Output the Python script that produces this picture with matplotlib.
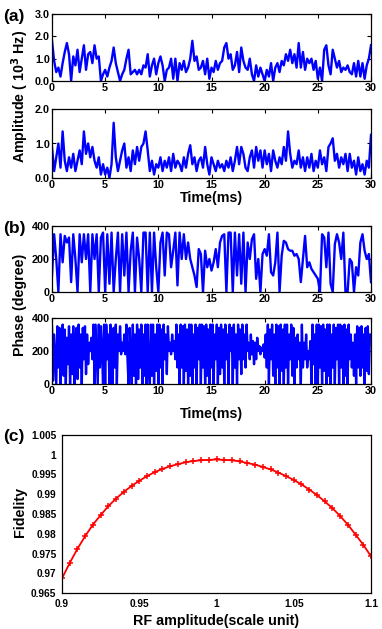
import numpy as np
import matplotlib
matplotlib.use("Agg")
import matplotlib.pyplot as plt
from matplotlib.ticker import FuncFormatter

plt.rcParams['font.family'] = ['Liberation Sans', 'DejaVu Sans']

# (a) amplitude traces, sampled every 0.2 ms (units of 10^3 Hz)
amp_top = [1.8, 0.9, 0.4, 0.6, 0.2, 0.8, 1.3, 1.7, 1.2, 0.0,
           1.1, 0.7, 1.4, 0.4, 1.0, 1.6, 0.5, 1.2, 1.3, 0.8,
           1.6, 1.0, 1.1, 0.0, 0.3, 0.5, 0.2, 0.6, 0.9, 1.5,
           0.8, 0.4, 0.0, 0.3, 0.5, 1.0, 1.4, 0.3, 0.4, 0.5,
           0.3, 0.5, 0.3, 0.7, 0.6, 1.2, 0.2, 0.7, 1.0, 0.3,
           0.8, 1.1, 0.7, 0.0, 0.5, 0.6, 1.0, 0.1, 1.0, 0.0,
           0.8, 0.5, 0.9, 0.4, 0.6, 1.0, 1.8, 0.9, 1.1, 0.5,
           0.6, 0.9, 0.3, 1.0, 0.1, 0.6, 0.4, 0.9, 0.5, 0.8,
           0.9, 1.5, 1.7, 1.0, 1.2, 0.5, 0.7, 1.3, 0.4, 1.5,
           0.9, 0.6, 0.5, 1.0, 0.3, 0.0, 0.7, 0.2, 0.6, 0.3,
           0.0, 0.5, 0.2, 0.8, 0.0, 0.6, 0.8, 0.4, 0.9, 0.7,
           1.2, 0.9, 1.4, 0.8, 1.2, 0.6, 1.7, 0.6, 1.3, 0.5,
           1.0, 0.8, 1.0, 0.5, 0.9, 0.1, 0.6, 0.0, 1.4, 1.6,
           0.7, 0.3, 1.4, 1.0, 0.6, 0.9, 0.4, 0.6, 0.5, 0.7,
           0.4, 0.3, 0.8, 0.2, 0.9, 0.2, 0.8, 0.1, 0.7, 1.0,
           1.6]
amp_bot = [0.9, 0.2, 0.6, 1.0, 0.3, 1.35, 0.5, 0.2, 0.6, 0.3,
           0.7, 0.2, 0.5, 0.8, 0.4, 1.35, 0.7, 1.0, 0.6, 0.9,
           0.5, 0.3, 0.6, 0.1, 0.4, 0.1, 0.3, 0.0, 0.4, 1.6,
           0.6, 0.2, 0.5, 0.8, 1.0, 0.3, 0.6, 0.2, 0.8, 0.4,
           0.9, 0.5, 0.9, 1.0, 1.35, 0.8, 0.2, 0.5, 0.1, 0.4,
           0.3, 0.6, 0.2, 0.5, 0.3, 0.6, 0.2, 0.7, 0.3, 0.5,
           0.4, 0.2, 0.6, 0.3, 0.7, 0.95, 0.4, 0.6, 0.2, 0.5,
           0.6, 0.3, 0.9, 0.4, 0.1, 0.6, 0.4, 0.2, 0.5, 0.3,
           0.4, 0.2, 0.5, 0.3, 0.6, 0.2, 0.5, 0.9, 0.4, 0.9,
           0.7, 0.3, 0.2, 0.6, 0.8, 0.3, 0.9, 0.5, 0.8, 0.3,
           0.8, 0.4, 0.7, 0.2, 0.8, 0.5, 0.3, 0.6, 0.4, 0.9,
           0.5, 1.35, 0.7, 0.3, 0.5, 0.4, 0.8, 0.3, 0.6, 0.2,
           0.6, 0.3, 0.7, 0.2, 0.5, 0.3, 0.8, 0.4, 0.6, 0.2,
           0.9, 1.0, 1.15, 0.5, 0.7, 0.3, 0.6, 0.4, 0.7, 0.2,
           0.7, 0.3, 0.5, 0.1, 0.6, 0.2, 0.4, 0.1, 0.5, 0.3,
           1.25]

# (b) phase traces in degrees; top every 0.2 ms, bottom every 0.1 ms
phase_top = [100, 350, 200, 0, 350, 180, 340, 300, 330, 60,
             350, 200, 0, 350, 180, 350, 200, 350, 0, 350,
             200, 350, 0, 330, 360, 0, 350, 50, 360, 0,
             200, 360, 0, 350, 100, 360, 0, 250, 360, 0,
             330, 200, 0, 360, 360, 0, 360, 0, 360, 150,
             0, 300, 360, 100, 360, 350, 150, 250, 360, 40,
             360, 200, 350, 200, 300, 200, 150, 100, 30, 260,
             230, 0, 250, 150, 200, 130, 180, 260, 150, 300,
             340, 350, 0, 360, 360, 0, 360, 100, 350, 50,
             360, 0, 300, 200, 320, 350, 80, 200, 0, 230,
             260, 220, 350, 120, 100, 180, 360, 0, 220, 310,
             300, 260, 250, 250, 220, 230, 200, 60, 200, 340,
             150, 180, 140, 120, 100, 80, 0, 350, 330, 150,
             360, 50, 0, 290, 350, 300, 200, 360, 0, 0,
             200, 180, 0, 150, 100, 300, 350, 250, 200, 230,
             60]
phase_bot = [350, 20, 300, 150, 0, 350, 100, 340, 0, 200,
             360, 50, 330, 0, 280, 120, 350, 0, 300, 60,
             350, 0, 250, 340, 30, 360, 100, 300, 0, 340,
             150, 350, 60, 300, 120, 250, 200, 280, 150, 360,
             0, 360, 180, 0, 360, 100, 350, 200, 0, 360,
             0, 360, 150, 300, 0, 360, 200, 0, 340, 100,
             360, 0, 300, 200, 350, 180, 250, 200, 300, 180,
             360, 150, 0, 340, 200, 0, 360, 50, 300, 0,
             360, 30, 330, 100, 360, 0, 300, 50, 360, 0,
             360, 100, 0, 360, 50, 360, 0, 300, 80, 360,
             0, 360, 100, 330, 0, 360, 150, 300, 60, 350,
             200, 250, 180, 300, 200, 260, 150, 360, 100, 300,
             0, 360, 100, 350, 0, 360, 80, 330, 0, 360,
             50, 360, 0, 300, 100, 360, 0, 340, 150, 360,
             0, 360, 100, 350, 0, 360, 50, 330, 0, 360,
             100, 360, 0, 300, 150, 360, 0, 340, 60, 360,
             100, 330, 0, 360, 150, 300, 0, 360, 200, 340,
             0, 360, 100, 300, 0, 360, 150, 330, 60, 360,
             150, 300, 100, 360, 200, 250, 150, 300, 180, 260,
             120, 250, 150, 280, 200, 230, 180, 220, 200, 240,
             160, 300, 100, 360, 0, 330, 150, 360, 50, 300,
             0, 360, 100, 350, 0, 360, 80, 330, 0, 360,
             100, 360, 0, 300, 150, 360, 50, 340, 0, 280,
             100, 300, 150, 250, 0, 360, 100, 250, 150, 300,
             100, 200, 150, 260, 0, 360, 120, 300, 0, 360,
             0, 360, 100, 350, 0, 360, 80, 330, 0, 360,
             50, 360, 0, 300, 100, 360, 0, 340, 150, 360,
             0, 360, 100, 350, 0, 360, 50, 330, 0, 360,
             150, 300, 100, 250, 50, 300, 0, 350, 100, 340,
             50, 350, 100, 300, 0, 340, 80, 350, 60, 300,
             300]

# (c) fidelity vs RF amplitude
rf_amp = [0.900, 0.905, 0.910, 0.915, 0.920, 0.925, 0.930, 0.935, 0.940, 0.945,
          0.950, 0.955, 0.960, 0.965, 0.970, 0.975, 0.980, 0.985, 0.990, 0.995,
          1.000, 1.005, 1.010, 1.015, 1.020, 1.025, 1.030, 1.035, 1.040, 1.045,
          1.050, 1.055, 1.060, 1.065, 1.070, 1.075, 1.080, 1.085, 1.090, 1.095,
          1.100]
fidelity = [0.9687, 0.9726, 0.9762, 0.9794, 0.9823, 0.9847, 0.9870, 0.9889, 0.9906, 0.9921,
            0.9934, 0.9946, 0.9956, 0.9964, 0.9971, 0.9976, 0.9981, 0.9984, 0.9986, 0.9987,
            0.9988, 0.9987, 0.9986, 0.9983, 0.9979, 0.9975, 0.9969, 0.9963, 0.9955, 0.9946,
            0.9936, 0.9925, 0.9912, 0.9898, 0.9882, 0.9865, 0.9845, 0.9823, 0.9798, 0.9772,
            0.9743]

BLUE = '#0000ff'
W, H = 382, 629
LABEL_FS = 10.3


def box(left, top, right, bottom):
    # pixel box -> figure fraction rect
    return [left / W, 1 - bottom / H, (right - left) / W, (bottom - top) / H]


def style(ax, size=7.8):
    ax.tick_params(direction='in', length=3, width=0.8, top=True, right=True,
                   labelsize=size, pad=1.5)
    for lab in ax.get_xticklabels() + ax.get_yticklabels():
        lab.set_fontweight('bold')
    for sp in ax.spines.values():
        sp.set_linewidth(0.9)


def trace(ax, vals, ylim, yticks, fmt):
    t = np.linspace(0, 30, len(vals))
    ax.plot(t, vals, color=BLUE, lw=1.7)
    ax.set_xlim(0, 30)
    ax.set_ylim(*ylim)
    ax.set_xticks([0, 5, 10, 15, 20, 25, 30])
    ax.set_yticks(yticks)
    ax.set_yticklabels([fmt % v for v in yticks])
    style(ax)


fig = plt.figure(figsize=(3.82, 6.29), dpi=100)

ax1 = fig.add_axes(box(52, 14, 371, 81))
trace(ax1, amp_top, (0, 3), [0, 1, 2, 3], '%.1f')
ax2 = fig.add_axes(box(52, 109, 371, 178))
trace(ax2, amp_bot, (0, 2), [0, 1, 2], '%.1f')
ax2.set_xlabel('Time(ms)', fontsize=LABEL_FS, fontweight='bold', labelpad=1)

ax3 = fig.add_axes(box(52, 226, 371, 292))
trace(ax3, phase_top, (0, 400), [0, 200, 400], '%d')
ax4 = fig.add_axes(box(52, 318, 371, 384))
trace(ax4, phase_bot, (0, 400), [0, 200, 400], '%d')
ax4.set_xlabel('Time(ms)', fontsize=LABEL_FS, fontweight='bold', labelpad=8)

fig.text(20 / W, 1 - 96 / H, 'Amplitude ( 10$^\\mathbf{3}$ Hz)', rotation=90,
         ha='center', va='center', fontsize=LABEL_FS, fontweight='bold')
fig.text(20 / W, 1 - 305 / H, 'Phase (degree)', rotation=90,
         ha='center', va='center', fontsize=LABEL_FS, fontweight='bold')

ax5 = fig.add_axes(box(62, 435, 371, 593))
ax5.plot(rf_amp, fidelity, color='red', lw=1.3, marker='+', ms=5, mew=1.1)
ax5.set_xlim(0.9, 1.1)
ax5.set_ylim(0.965, 1.005)
ax5.set_xticks([0.9, 0.95, 1.0, 1.05, 1.1])
ax5.set_yticks(np.arange(0.965, 1.0051, 0.005))
ax5.xaxis.set_major_formatter(FuncFormatter(lambda v, p: '%g' % round(v, 3)))
ax5.yaxis.set_major_formatter(FuncFormatter(lambda v, p: '%g' % round(v, 3)))
style(ax5, size=7.3)
ax5.tick_params(length=0, pad=4)
ax5.set_xlabel('RF amplitude(scale unit)', fontsize=LABEL_FS, fontweight='bold', labelpad=4)
fig.text(20 / W, 1 - 512 / H, 'Fidelity', rotation=90,
         ha='center', va='center', fontsize=LABEL_FS, fontweight='bold')

for lab, y in [('(a)', 16), ('(b)', 228), ('(c)', 437)]:
    fig.text(3 / W, 1 - y / H, lab, ha='left', va='center', fontsize=12.5, fontweight='bold')

fig.savefig('out.png', dpi=100)
